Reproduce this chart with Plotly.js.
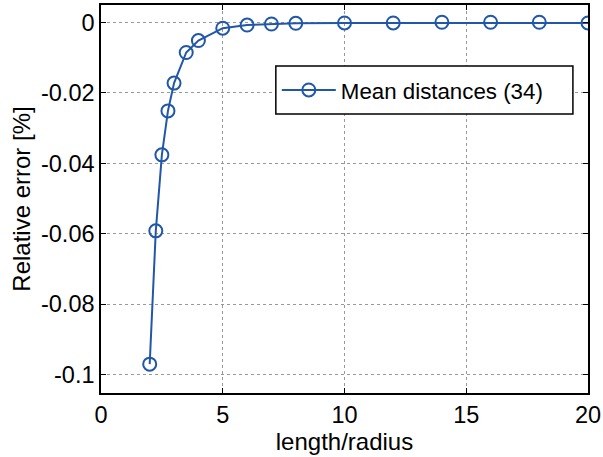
<!DOCTYPE html>
<html><head><meta charset="utf-8">
<script src="https://cdn.plot.ly/plotly-3.0.1.min.js"></script>
<style>html,body{margin:0;padding:0;background:#fff}#chart{width:603px;height:457px}</style>
</head><body><div id="chart"></div>
<script>
const lengthRadius = [2, 2.25, 2.5, 2.75, 3, 3.5, 4, 5, 6, 7, 8, 10, 12, 14, 16, 18, 20];
const relError = [-0.0971, -0.0592, -0.0376, -0.0251, -0.0172, -0.0085, -0.0051, -0.0016, -0.0007, -0.0004, -0.0002, -0.0001, -0.0001, 0.0001, 0.0001, 0.0001, -0.0001];
const seriesName = 'Mean distances (34)';
const xTicks = [0, 5, 10, 15, 20];
const yTicks = [-0.1, -0.08, -0.06, -0.04, -0.02, 0];
const yTickText = ['-0.1', '-0.08', '-0.06', '-0.04', '-0.02', '0'];
const col = 'rgb(33,87,168)';
const font = 'Liberation Sans, Arial, sans-serif';
Plotly.newPlot('chart', [{
  x: lengthRadius, y: relError, name: seriesName, type: 'scatter', mode: 'lines+markers',
  line: {color: col, width: 2},
  marker: {symbol: 'circle-open', size: 13, color: col, line: {width: 2, color: col}}
}], {
  width: 603, height: 457,
  margin: {l: 101, r: 15, t: 5, b: 64},
  paper_bgcolor: '#fff', plot_bgcolor: '#fff',
  font: {family: font, size: 23.5, color: '#000'},
  showlegend: true,
  shapes: [{type: 'rect', xref: 'paper', yref: 'paper', x0: 0.359, x1: 0.969, y0: 0.719, y1: 0.843,
    fillcolor: '#fff', line: {color: '#000', width: 1.5}, layer: 'above'}],
  legend: {x: 0.361, y: 0.781, xanchor: 'left', yanchor: 'middle', bgcolor: 'rgba(0,0,0,0)', borderwidth: 0, font: {size: 22.3}, itemwidth: 54},
  xaxis: {range: [0, 20], tickvals: xTicks, ticktext: xTicks.map(String), showgrid: true, gridcolor: '#999', griddash: 'dot', gridwidth: 1,
    zeroline: false, showline: true, linecolor: '#000', linewidth: 1.5, mirror: 'ticks', ticks: 'inside', ticklen: 5, tickcolor: '#000',
    automargin: false, title: {text: 'length/radius', font: {size: 24}, standoff: 0}},
  yaxis: {range: [-0.1053, 0.005], tickvals: yTicks, ticktext: yTickText, showgrid: true, gridcolor: '#999', griddash: 'dot', gridwidth: 1,
    zeroline: false, showline: true, linecolor: '#000', linewidth: 1.5, mirror: 'ticks', ticks: 'inside', ticklen: 5, tickcolor: '#000',
    automargin: false, title: {text: 'Relative error [%]', font: {size: 24}, standoff: 4}}
}, {displayModeBar: false});
</script></body></html>
